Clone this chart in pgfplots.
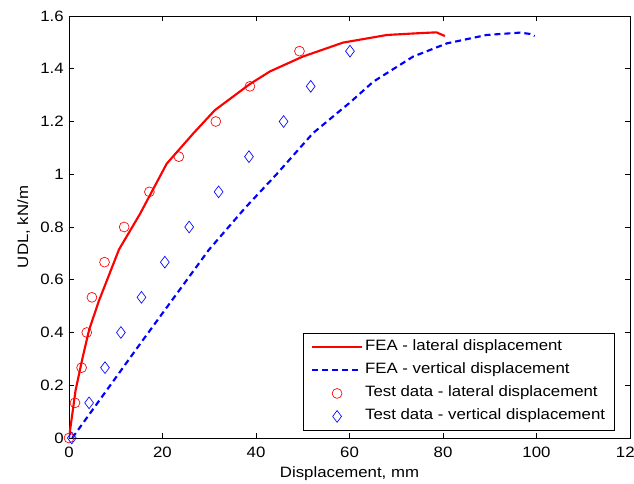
\documentclass[border=0pt]{standalone}
\usepackage{pgfplots}
\pgfplotsset{compat=1.18}
\usepackage{fontspec}
\setmainfont{Liberation Sans}[FakeStretch=1.12]

\begin{document}
\fontsize{11.25}{13}\selectfont
\begin{tikzpicture}
\begin{axis}[
    scale only axis,
    width=420.75pt, height=316.5pt,
    xmin=0, xmax=120, ymin=0, ymax=1.6,
    xtick={0,20,...,120},
    ytick={0,0.2,...,1.6},
    yticklabels={0,0.2,0.4,0.6,0.8,1,1.2,1.4,1.6},
    /pgf/number format/assume math mode=true,
    tick align=inside,
    major tick length=3.75pt,
    tick style={black, line width=0.5pt},
    axis line style={line width=0.6pt},
    xlabel={Displacement, mm},
    ylabel={UDL, kN/m},
    every tick label/.append style={font=\fontsize{11.25}{13}\selectfont},
    xticklabel style={yshift=-3pt},
    label style={font=\fontsize{11.25}{13}\selectfont},
    xlabel style={yshift=1pt},
    ylabel style={yshift=0pt},
    legend style={
        at={(0.973,0.017)}, anchor=south east,
        draw=black, line width=0.6pt,
        font=\fontsize{11.25}{13}\selectfont,
        nodes={inner sep=1.5pt, text height=8pt, text depth=3pt},
        row sep=3.25pt,
        inner xsep=5.5pt, inner ysep=3.5pt,
    },
    legend cell align=left,
    legend image code/.code={
        \draw[mark repeat=2, mark phase=2, #1]
            plot coordinates {(0pt,0pt) (18.75pt,0pt) (37.5pt,0pt)};
    },
]
\addplot[red, line width=1.6pt] coordinates {
    (0,0) (1.4,0.18) (2.85,0.30) (4.3,0.41) (6.4,0.52) (10.7,0.715)
    (15.2,0.85) (20.9,1.04) (26.6,1.155) (31.2,1.243) (38.7,1.342)
    (43,1.39) (50,1.446) (58.6,1.499) (68,1.528) (75,1.535) (78.6,1.538) (80.4,1.524)
};
\addlegendentry{FEA - lateral displacement}

\addplot[blue, line width=1.6pt, dash pattern=on 4.5pt off 3pt] coordinates {
    (0.7,0) (15.3,0.359) (29.9,0.713) (37.6,0.871) (44.4,1.0) (52.2,1.156)
    (60.1,1.272) (65.1,1.351) (73.6,1.446) (80.8,1.496) (89.3,1.528)
    (96.5,1.537) (98.6,1.532) (99.6,1.524)
};
\addlegendentry{FEA - vertical displacement}

\addplot[only marks, mark=o, mark size=3.7pt, red, mark options={line width=0.5pt}] coordinates {
    (0,0) (1.28,0.1333) (2.7,0.2667) (3.8,0.4) (4.9,0.5333) (7.6,0.6667)
    (11.8,0.8) (17.2,0.9333) (23.5,1.0667) (31.4,1.2) (38.7,1.3333) (49.3,1.4667)
};
\addlegendentry{Test data - lateral displacement}

\addplot[only marks, mark=diamond, mark size=4.4pt, blue, mark options={line width=0.5pt}] coordinates {
    (0.6,0) (4.3,0.1333) (7.7,0.2667) (11.1,0.4) (15.5,0.5333) (20.5,0.6667)
    (25.7,0.8) (32.0,0.9333) (38.5,1.0667) (45.9,1.2) (51.7,1.3333) (60.1,1.4667)
};
\addlegendentry{Test data - vertical displacement}
\end{axis}
\pgfresetboundingbox
\path ([shift={(-51.75pt,-34.5pt)}]current axis.south west)
    rectangle ([shift={(3pt,12pt)}]current axis.north east);
\end{tikzpicture}
\end{document}
